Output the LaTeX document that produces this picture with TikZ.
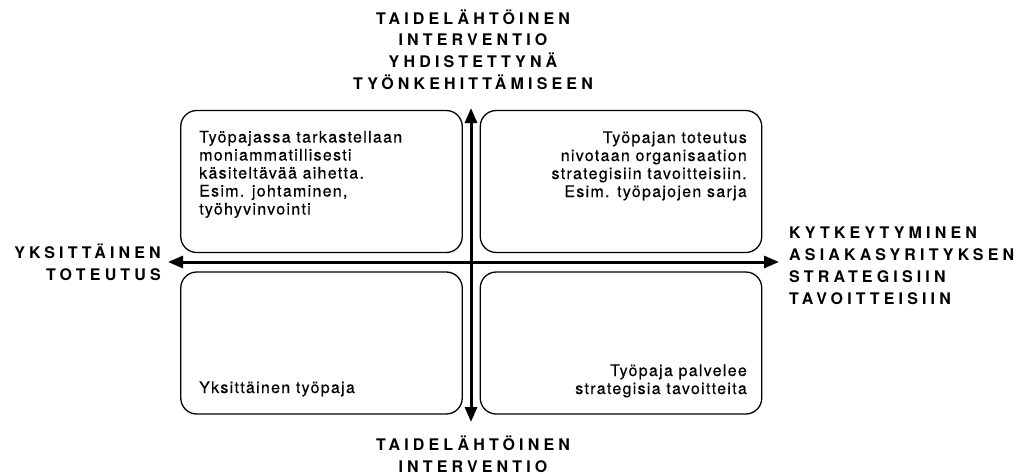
\documentclass[tikz,border=0pt]{standalone}
\usepackage{fontspec}
\setmainfont{TeX Gyre Heros}
\newfontfamily\headfont[LetterSpace=26]{TeX Gyre Heros}
\newfontfamily\bodyfont[LetterSpace=8,FakeBold=0.4]{TeX Gyre Heros}
\usetikzlibrary{arrows.meta,calc}

\tikzset{
  quad/.style={draw, line width=1.3pt, rounded corners=16pt, minimum width=281.5pt, minimum height=142pt, inner sep=0pt},
  axis/.style={line width=3pt, {Triangle[length=15pt,width=12pt]}-{Triangle[length=15pt,width=12pt]}},
  heading/.style={font=\headfont\bfseries\fontsize{16}{21.8}\selectfont, inner sep=0pt},
  body/.style={font=\bodyfont\fontsize{16}{18}\selectfont, inner sep=0pt},
}

\begin{document}
\begin{tikzpicture}[x=1pt, y=-1pt]
  \useasboundingbox (0,0) rectangle (1018,474);

  % quadrant boxes
  \node[quad] (tl) at (321.5,181.5) {};
  \node[quad] (tr) at (621,181.5) {};
  \node[quad] (bl) at (321.5,343) {};
  \node[quad] (br) at (621,343) {};

  % axes
  \coordinate (o) at (471,262);
  \coordinate (axt) at (471,108);
  \coordinate (axb) at (471,422);
  \coordinate (axl) at (168,262);
  \coordinate (axr) at (779,262);
  \draw[axis] (axl) -- (axr);
  \draw[axis] (axb) -- (axt);

  % axis labels (anchored at the last line's baseline)
  \node[heading, align=center, anchor=base] (toplab) at (473,89.5) {TAIDELÄHTÖINEN\\INTERVENTIO\\YHDISTETTYNÄ\\TYÖNKEHITTÄMISEEN};
  \node[heading, align=center, anchor=base] (botlab) at (473,472) {TAIDELÄHTÖINEN\\INTERVENTIO};
  \node[heading, align=right, anchor=base east] (leftlab) at (161,280) {YKSITTÄINEN\\TOTEUTUS};
  \node[heading, align=left, anchor=base west] (rightlab) at (789,304) {KYTKEYTYMINEN\\ASIAKASYRITYKSEN\\STRATEGISIIN\\TAVOITTEISIIN};

  % quadrant texts
  \node[body, align=left, anchor=base west] (tltext) at (199,214.5) {Työpajassa tarkastellaan\\moniammatillisesti\\käsiteltävää aihetta.\\Esim. johtaminen,\\työhyvinvointi};
  \node[body, align=right, anchor=base east] (trtext) at (747,197) {Työpajan toteutus\\nivotaan organisaation\\strategisiin tavoitteisiin.\\Esim. työpajojen sarja};
  \node[body, align=left, anchor=base west] (bltext) at (199,393) {Yksittäinen työpaja};
  \node[body, align=right, anchor=base east] (brtext) at (747,394) {Työpaja palvelee\\strategisia tavoitteita};
\end{tikzpicture}
\end{document}
